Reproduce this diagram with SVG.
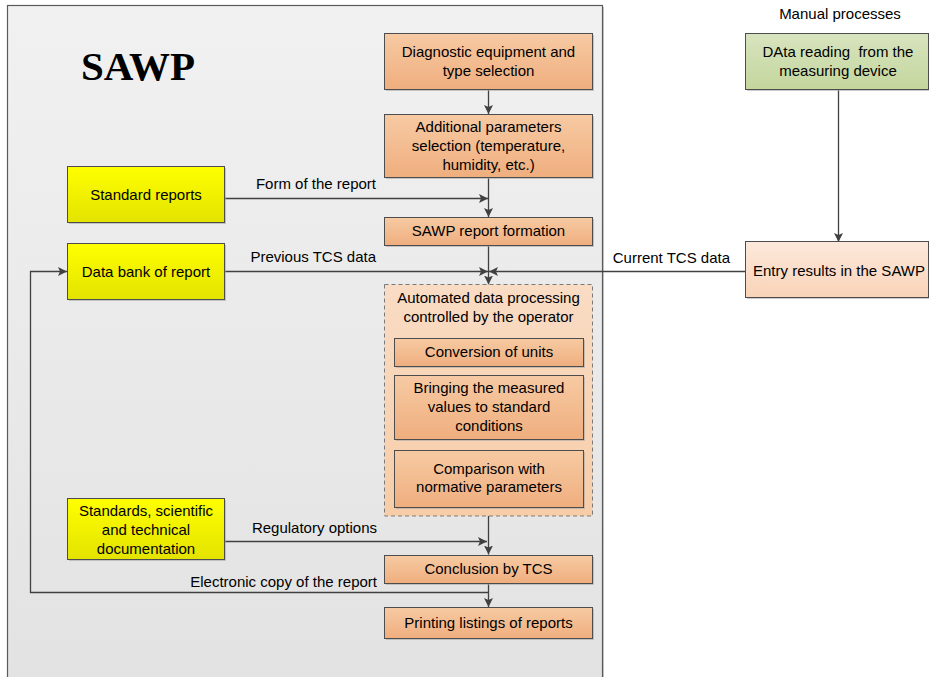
<svg xmlns="http://www.w3.org/2000/svg" width="929" height="677" viewBox="0 0 929 677">
<style>
text{font-family:"Liberation Sans",Arial,sans-serif;font-size:15px;fill:#000;text-anchor:middle}
text.title{font-family:"Liberation Serif","Times New Roman",serif;font-size:41px;font-weight:bold}
.lbl{text-anchor:end}
.box{stroke:#4d4d4d;stroke-width:1}
.sh{fill:#a6a6a6;opacity:0.6}
.orange{fill:url(#gOr)}
.yellow{fill:url(#gYe)}
.con{fill:none;stroke:#404040;stroke-width:1.3}
</style>
<defs>
<linearGradient id="gBg" x1="0" y1="0" x2="0" y2="1"><stop offset="0" stop-color="#f1f1f1"/><stop offset="1" stop-color="#e2e2e2"/></linearGradient>
<linearGradient id="gOr" x1="0" y1="0" x2="0" y2="1"><stop offset="0" stop-color="#f7caa3"/><stop offset="1" stop-color="#efae7e"/></linearGradient>
<linearGradient id="gYe" x1="0" y1="0" x2="0" y2="1"><stop offset="0" stop-color="#ffff00"/><stop offset="1" stop-color="#e3e300"/></linearGradient>
<linearGradient id="gGr" x1="0" y1="0" x2="0" y2="1"><stop offset="0" stop-color="#d8e4bf"/><stop offset="1" stop-color="#c4d69d"/></linearGradient>
<linearGradient id="gPe" x1="0" y1="0" x2="0" y2="1"><stop offset="0" stop-color="#fde9dc"/><stop offset="1" stop-color="#f9d3b8"/></linearGradient>
<linearGradient id="gDa" x1="0" y1="0" x2="0" y2="1"><stop offset="0" stop-color="#f9dcc4"/><stop offset="1" stop-color="#f7cda8"/></linearGradient>
<marker id="ah" markerWidth="10" markerHeight="10" refX="9" refY="5" orient="auto" markerUnits="userSpaceOnUse"><path d="M0,0.5 L9,5 L0,9.5 L2,5 Z" fill="#404040"/></marker>
</defs>

<g id="container">
<rect x="9" y="7" width="595" height="700" class="sh"/>
<rect x="7.5" y="5.5" width="595" height="700" fill="url(#gBg)" stroke="#5a5a5a" stroke-width="1.2"/>
<text class="title" x="138" y="80">SAWP</text>
</g>

<g id="manual-label"><text x="840" y="19">Manual processes</text></g>

<g id="connectors">
<line x1="488.5" y1="89.5" x2="488.5" y2="114" class="con" marker-end="url(#ah)"/>
<line x1="488.5" y1="177.5" x2="488.5" y2="217" class="con" marker-end="url(#ah)"/>
<line x1="225" y1="198.5" x2="488" y2="198.5" class="con" marker-end="url(#ah)"/>
<line x1="488.5" y1="245" x2="488.5" y2="284.5" class="con" marker-end="url(#ah)"/>
<line x1="225" y1="271.5" x2="488" y2="271.5" class="con" marker-end="url(#ah)"/>
<line x1="745" y1="271.5" x2="489" y2="271.5" class="con" marker-end="url(#ah)"/>
<line x1="838.5" y1="89.5" x2="838.5" y2="242" class="con" marker-end="url(#ah)"/>
<line x1="488.5" y1="516" x2="488.5" y2="554.5" class="con" marker-end="url(#ah)"/>
<line x1="225" y1="541.5" x2="487" y2="541.5" class="con" marker-end="url(#ah)"/>
<line x1="488.5" y1="583" x2="488.5" y2="607" class="con" marker-end="url(#ah)"/>
<polyline points="488.5,592.5 30.5,592.5 30.5,271.5 67,271.5" class="con" marker-end="url(#ah)"/>
<text class="lbl" x="376" y="189">Form of the report</text>
<text class="lbl" x="376" y="262">Previous TCS data</text>
<text class="lbl" x="730" y="263">Current TCS data</text>
<text class="lbl" x="377" y="533">Regulatory options</text>
<text class="lbl" x="377" y="587">Electronic copy of the report</text>
</g>

<g id="diagnostic">
<rect x="386" y="35" width="208" height="56" class="sh"/>
<rect x="384.5" y="33.5" width="208" height="56" class="box orange"/>
<text x="488.5" y="57">Diagnostic equipment and</text>
<text x="488.5" y="76">type selection</text>
</g>

<g id="additional">
<rect x="386" y="116" width="208" height="63" class="sh"/>
<rect x="384.5" y="114.5" width="208" height="63" class="box orange"/>
<text x="488.5" y="132">Additional parameters</text>
<text x="488.5" y="151">selection (temperature,</text>
<text x="488.5" y="170">humidity, etc.)</text>
</g>

<g id="formation">
<rect x="386" y="219" width="208" height="28" class="sh"/>
<rect x="384.5" y="217.5" width="208" height="28" class="box orange"/>
<text x="488.5" y="236">SAWP report formation</text>
</g>

<g id="standard-reports">
<rect x="69" y="168" width="157" height="56" class="sh"/>
<rect x="67.5" y="166.5" width="157" height="56" class="box yellow"/>
<text x="146" y="200">Standard reports</text>
</g>

<g id="data-bank">
<rect x="69" y="245" width="157" height="56" class="sh"/>
<rect x="67.5" y="243.5" width="157" height="56" class="box yellow"/>
<text x="146" y="277">Data bank of report</text>
</g>

<g id="data-reading">
<rect x="747" y="35" width="183" height="56" class="sh"/>
<rect x="745.5" y="33.5" width="183" height="56" fill="url(#gGr)" class="box"/>
<text x="838" y="57" xml:space="preserve">DAta reading  from the</text>
<text x="838" y="76">measuring device</text>
</g>

<g id="entry-results">
<rect x="747" y="243" width="183" height="56" class="sh"/>
<rect x="745.5" y="241.5" width="183" height="56" fill="url(#gPe)" class="box"/>
<text x="839" y="276">Entry results in the SAWP</text>
</g>

<g id="automated">
<rect x="384.5" y="284.5" width="208" height="231.5" fill="url(#gDa)" stroke="#7a7a7a" stroke-width="1" stroke-dasharray="4,3"/>
<text x="488.5" y="303">Automated data processing</text>
<text x="488.5" y="322">controlled by the operator</text>
</g>

<g id="conversion">
<rect x="396" y="340" width="189" height="28" class="sh"/>
<rect x="394.5" y="338.5" width="189" height="28" class="box orange"/>
<text x="489" y="357">Conversion of units</text>
</g>

<g id="bringing">
<rect x="396" y="377" width="189" height="64" class="sh"/>
<rect x="394.5" y="375.5" width="189" height="64" class="box orange"/>
<text x="489" y="393">Bringing the measured</text>
<text x="489" y="412">values to standard</text>
<text x="489" y="431">conditions</text>
</g>

<g id="comparison">
<rect x="396" y="452" width="189" height="57" class="sh"/>
<rect x="394.5" y="450.5" width="189" height="57" class="box orange"/>
<text x="489" y="474">Comparison with</text>
<text x="489" y="492">normative parameters</text>
</g>

<g id="standards">
<rect x="69" y="500" width="157" height="61" class="sh"/>
<rect x="67.5" y="498.5" width="157" height="61" class="box yellow"/>
<text x="146" y="516">Standards, scientific</text>
<text x="146" y="535">and technical</text>
<text x="146" y="554">documentation</text>
</g>

<g id="conclusion">
<rect x="386" y="557" width="208" height="28" class="sh"/>
<rect x="384.5" y="555.5" width="208" height="28" class="box orange"/>
<text x="488.5" y="574">Conclusion by TCS</text>
</g>

<g id="printing">
<rect x="386" y="609" width="208" height="31" class="sh"/>
<rect x="384.5" y="607.5" width="208" height="31" class="box orange"/>
<text x="488.5" y="628">Printing listings of reports</text>
</g>
</svg>
